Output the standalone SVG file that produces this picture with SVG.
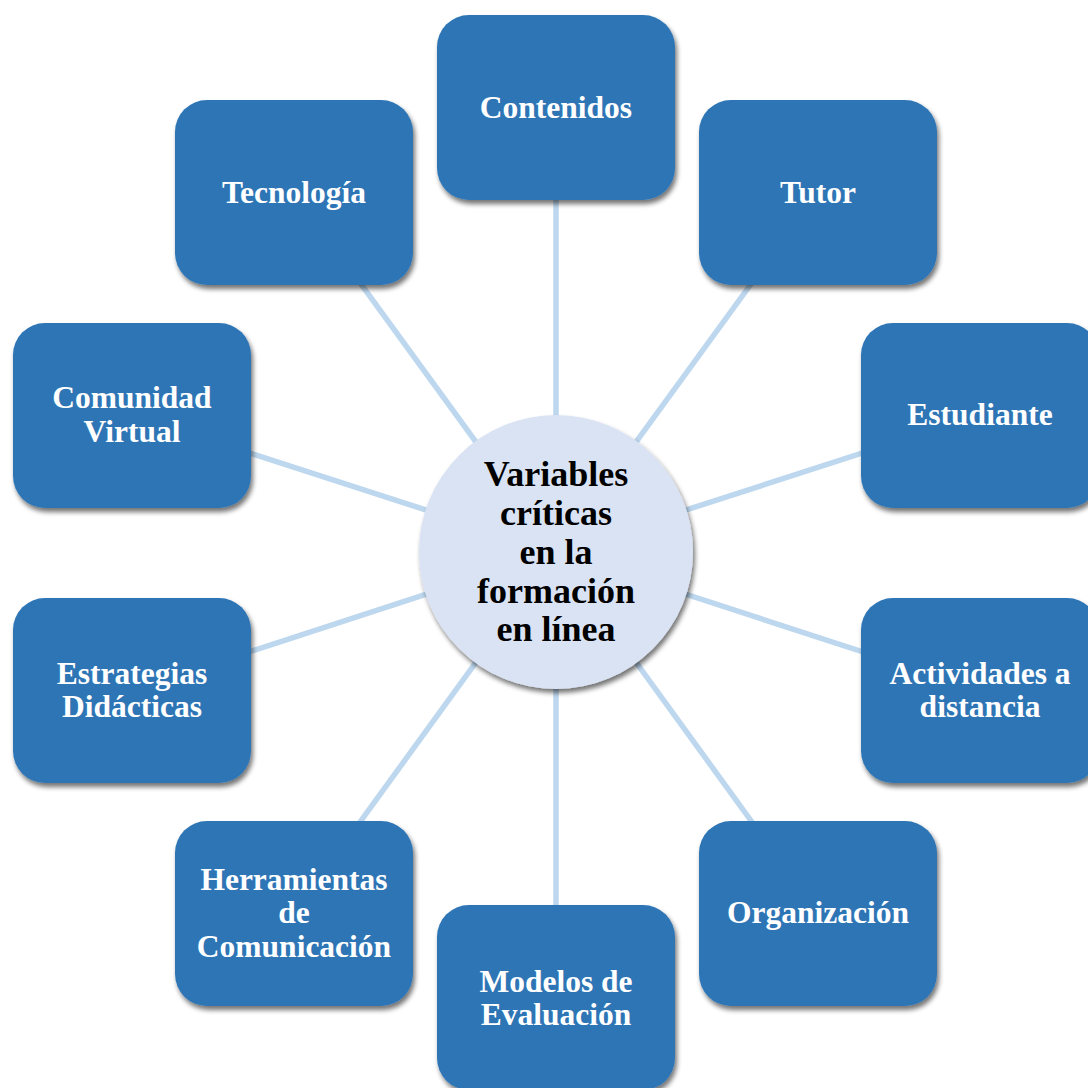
<svg xmlns="http://www.w3.org/2000/svg" width="1088" height="1088" viewBox="0 0 1088 1088">
  <defs>
    <filter id="shadow" x="-10%" y="-10%" width="125%" height="125%">
      <feGaussianBlur in="SourceAlpha" stdDeviation="2.5"/>
      <feOffset dx="2" dy="4" result="b"/>
      <feComponentTransfer><feFuncA type="linear" slope="0.55"/></feComponentTransfer>
      <feMerge><feMergeNode/><feMergeNode in="SourceGraphic"/></feMerge>
    </filter>
    <style>
      .box { fill: #2E75B6; filter: url(#shadow); }
      .hub { fill: #DAE3F3; filter: url(#shadow); }
      .link { stroke: #BDD7EE; stroke-width: 5.5; fill: none; }
      .lbl { font-family: "Liberation Serif", "Times New Roman", serif; font-weight: bold; font-size: 31.5px; fill: #FFFFFF; text-anchor: middle; }
      .hubtxt { font-family: "Liberation Serif", "Times New Roman", serif; font-weight: bold; font-size: 36px; fill: #000000; text-anchor: middle; }
    </style>
  </defs>
  <rect width="1088" height="1088" fill="#FFFFFF"/>

  <!-- spokes from the hub to every box centre -->
  <g id="connectors">
    <line class="link" x1="556" y1="552" x2="556" y2="107"/>
    <line class="link" x1="556" y1="552" x2="818" y2="192"/>
    <line class="link" x1="556" y1="552" x2="980" y2="415"/>
    <line class="link" x1="556" y1="552" x2="980" y2="690"/>
    <line class="link" x1="556" y1="552" x2="818" y2="913"/>
    <line class="link" x1="556" y1="552" x2="556" y2="997"/>
    <line class="link" x1="556" y1="552" x2="294" y2="913"/>
    <line class="link" x1="556" y1="552" x2="132" y2="690"/>
    <line class="link" x1="556" y1="552" x2="132" y2="415"/>
    <line class="link" x1="556" y1="552" x2="294" y2="192"/>
  </g>

  <g id="contenidos">
    <rect class="box" x="437" y="15" width="238" height="185" rx="32"/>
    <text class="lbl" x="556" y="118">Contenidos</text>
  </g>
  <g id="tutor">
    <rect class="box" x="699" y="100" width="238" height="185" rx="32"/>
    <text class="lbl" x="818" y="203">Tutor</text>
  </g>
  <g id="estudiante">
    <rect class="box" x="861" y="323" width="238" height="185" rx="32"/>
    <text class="lbl" x="980" y="425">Estudiante</text>
  </g>
  <g id="actividades">
    <rect class="box" x="861" y="598" width="238" height="185" rx="32"/>
    <text class="lbl" x="980" y="684">Actividades a</text>
    <text class="lbl" x="980" y="717">distancia</text>
  </g>
  <g id="organizacion">
    <rect class="box" x="699" y="821" width="238" height="185" rx="32"/>
    <text class="lbl" x="818" y="923">Organización</text>
  </g>
  <g id="modelos">
    <rect class="box" x="437" y="905" width="238" height="185" rx="32"/>
    <text class="lbl" x="556" y="992">Modelos de</text>
    <text class="lbl" x="556" y="1025">Evaluación</text>
  </g>
  <g id="herramientas">
    <rect class="box" x="175" y="821" width="238" height="185" rx="32"/>
    <text class="lbl" x="294" y="890">Herramientas</text>
    <text class="lbl" x="294" y="923">de</text>
    <text class="lbl" x="294" y="957">Comunicación</text>
  </g>
  <g id="estrategias">
    <rect class="box" x="13" y="598" width="238" height="185" rx="32"/>
    <text class="lbl" x="132" y="684">Estrategias</text>
    <text class="lbl" x="132" y="717">Didácticas</text>
  </g>
  <g id="comunidad">
    <rect class="box" x="13" y="323" width="238" height="185" rx="32"/>
    <text class="lbl" x="132" y="408">Comunidad</text>
    <text class="lbl" x="132" y="442">Virtual</text>
  </g>
  <g id="tecnologia">
    <rect class="box" x="175" y="100" width="238" height="185" rx="32"/>
    <text class="lbl" x="294" y="203">Tecnología</text>
  </g>

  <g id="hub">
    <circle class="hub" cx="556" cy="552" r="137"/>
    <text class="hubtxt" x="556" y="486">Variables</text>
    <text class="hubtxt" x="556" y="525">críticas</text>
    <text class="hubtxt" x="556" y="564">en la</text>
    <text class="hubtxt" x="556" y="603">formación</text>
    <text class="hubtxt" x="556" y="641">en línea</text>
  </g>
</svg>
